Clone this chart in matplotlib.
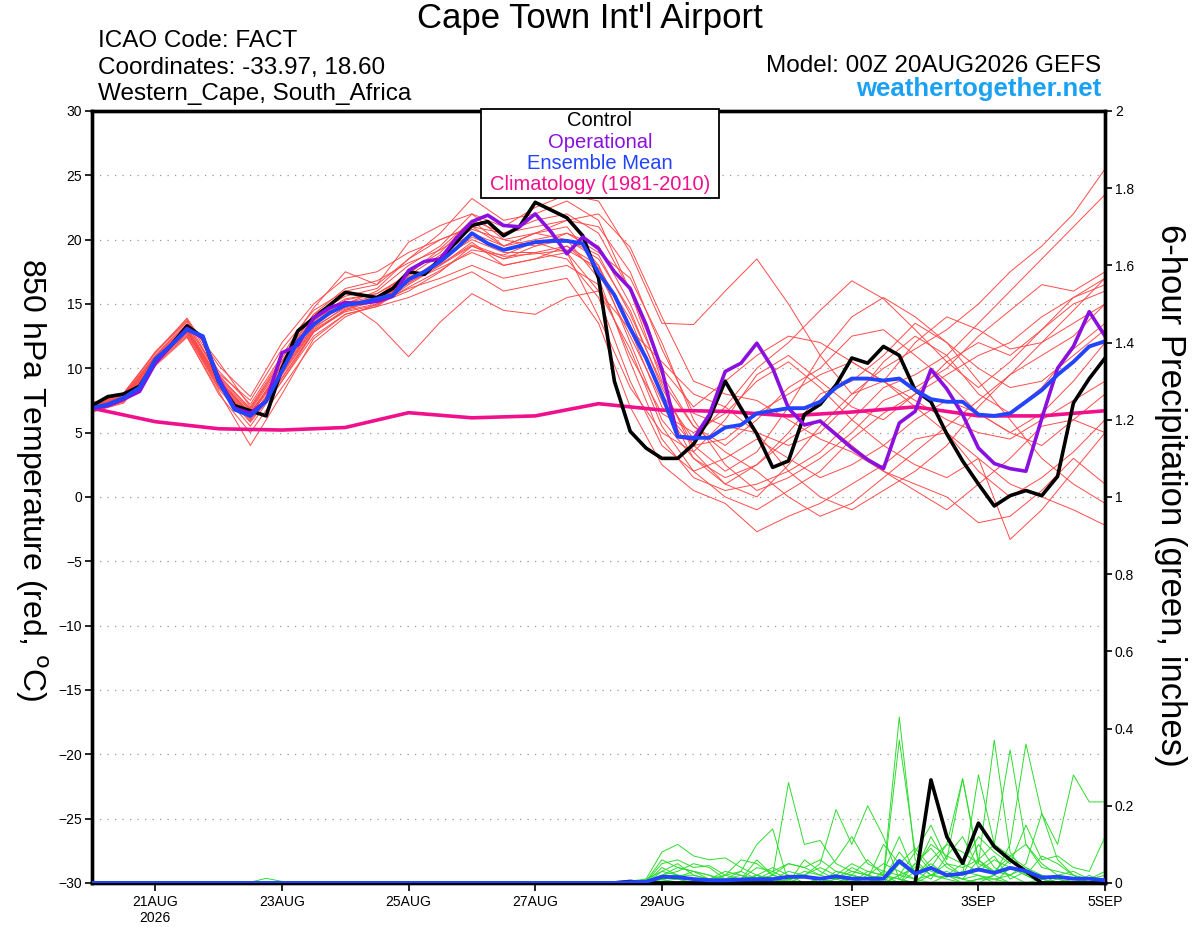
import numpy as np
import matplotlib
matplotlib.use("Agg")
from matplotlib import pyplot as plt
from matplotlib.patches import Rectangle

plt.rcParams['font.family'] = ['Liberation Sans', 'DejaVu Sans']

# time axis: hours after 00Z 20AUG2026
hours6 = np.arange(0, 385, 6)
hours12 = np.arange(0, 385, 12)
hours24 = np.arange(0, 385, 24)

tick_hours = [24, 72, 120, 168, 216, 288, 336, 384]
tick_labels = ["21AUG\n2026", "23AUG", "25AUG", "27AUG", "29AUG", "1SEP", "3SEP", "5SEP"]

# 850 hPa temperature, 6-hourly
control = [7.1, 7.8, 8.0, 8.6, 10.5, 11.8, 13.3, 12.4, 9.0, 7.1,
           6.7, 6.3, 10.0, 12.9, 13.9, 14.9, 15.9, 15.7, 15.5, 16.2,
           17.5, 17.3, 18.5, 19.8, 21.1, 21.4, 20.3, 21.0, 22.9, 22.3,
           21.7, 20.3, 17.0, 9.0, 5.1, 3.8, 3.0, 3.0, 4.1, 6.1,
           9.0, 6.9, 4.9, 2.3, 2.8, 6.4, 7.2, 8.7, 10.8, 10.4,
           11.7, 11.0, 8.3, 7.4, 4.9, 2.8, 1.0, -0.7, 0.1, 0.5,
           0.1, 1.6, 7.3, 9.2, 10.8]
operational = [6.9, 7.1, 7.6, 8.2, 10.4, 11.8, 13.1, 12.35, 9.25, 6.9,
               6.5, 7.45, 11.2, 11.8, 13.9, 14.7, 15.1, 15.05, 15.2, 15.6,
               17.6, 18.3, 18.5, 20.1, 21.4, 21.9, 21.1, 21.0, 22.0, 20.6,
               18.9, 20.2, 19.3, 17.5, 16.2, 13.4, 9.9, 4.7, 4.5, 6.4,
               9.75, 10.4, 11.95, 10.0, 6.9, 5.6, 5.9, 4.85, 3.8, 2.9,
               2.2, 5.75, 6.65, 9.9, 8.4, 6.4, 3.8, 2.6, 2.2, 2.0,
               6.1, 10.0, 11.7, 14.4, 12.5]
ens_mean = [6.9, 7.2, 7.7, 8.5, 10.7, 11.8, 13.0, 12.5, 9.0, 6.8,
            6.3, 7.45, 9.8, 12.1, 13.4, 14.3, 14.9, 15.1, 15.4, 15.7,
            16.9, 17.5, 18.3, 19.3, 20.5, 19.7, 19.2, 19.5, 19.8, 19.9,
            19.9, 19.7, 17.4, 15.7, 13.1, 10.8, 7.95, 4.7, 4.6, 4.6,
            5.4, 5.6, 6.5, 6.7, 6.9, 6.9, 7.4, 8.5, 9.2, 9.2,
            9.05, 9.2, 8.3, 7.6, 7.4, 7.4, 6.4, 6.3, 6.5, 7.4,
            8.3, 9.5, 10.5, 11.7, 12.1]
climatology = [6.9, 5.85, 5.3, 5.2, 5.4, 6.55, 6.15, 6.3, 7.25,
               6.75, 6.65, 6.3, 6.6, 7.0, 6.3, 6.3, 6.7]

# ensemble members, 12-hourly
m01 = [7.0, 7.8, 11.0, 13.6, 9.5, 6.8, 10.5, 14.2, 15.6, 16.2, 18.5, 20.5, 23.2, 21.5, 22.0, 23.0, 21.5, 16.0, 9.0, 5.5, 4.0, 6.0, 8.5, 10.0, 12.5, 13.0, 11.0, 9.0, 6.5, 5.0, 4.0, 6.0, 8.0]
m02 = [6.8, 7.5, 10.5, 12.8, 8.6, 5.8, 9.0, 12.8, 14.5, 15.0, 16.0, 17.5, 19.5, 18.5, 19.5, 20.5, 19.0, 17.0, 12.0, 6.0, 2.5, 0.5, 1.5, 3.0, 5.0, 7.5, 8.5, 10.0, 12.5, 14.5, 16.5, 16.0, 17.5]
m03 = [7.2, 8.0, 11.2, 13.9, 10.2, 7.8, 12.0, 15.0, 17.0, 17.5, 19.0, 20.0, 21.0, 19.5, 20.5, 21.0, 18.0, 12.0, 6.0, 3.0, 1.5, 2.5, 5.0, 8.0, 9.0, 11.0, 13.5, 12.0, 9.0, 6.0, 3.0, 1.0, -0.5]
m04 = [6.6, 7.4, 10.2, 12.4, 8.2, 4.0, 8.0, 12.3, 14.2, 14.8, 16.5, 18.0, 19.8, 18.0, 18.5, 19.0, 14.0, 8.5, 5.0, 3.5, 6.0, 9.5, 11.0, 9.0, 7.0, 6.0, 8.0, 10.5, 12.0, 11.0, 13.0, 15.0, 16.0]
m05 = [7.1, 7.9, 10.9, 13.2, 9.2, 6.5, 10.0, 13.8, 15.2, 13.5, 10.9, 13.6, 15.8, 14.5, 14.2, 15.5, 16.0, 13.0, 10.5, 8.0, 7.0, 5.0, 2.0, 0.0, -1.0, 0.5, 2.0, 4.0, 7.0, 9.5, 12.0, 13.5, 15.0]
m06 = [6.9, 7.6, 10.6, 12.9, 8.8, 6.0, 9.5, 13.0, 14.5, 15.5, 17.5, 19.0, 21.5, 20.5, 21.0, 21.5, 22.0, 19.4, 14.0, 9.0, 8.0, 7.5, 6.0, 4.5, 3.5, 2.0, 0.5, -1.0, 1.0, 3.0, 5.5, 6.0, 5.0]
m07 = [7.3, 8.0, 11.3, 13.8, 9.8, 7.2, 11.0, 14.7, 17.5, 16.5, 19.8, 21.1, 22.0, 20.0, 19.5, 20.0, 17.0, 10.5, 4.5, 1.5, 0.5, 1.0, 2.0, 3.5, 6.0, 8.5, 9.5, 11.0, 13.5, 16.0, 18.5, 21.0, 23.5]
m08 = [6.7, 7.5, 10.4, 12.6, 8.4, 5.5, 9.0, 12.5, 14.2, 14.8, 15.5, 16.5, 17.5, 16.0, 16.5, 17.0, 13.5, 7.0, 2.5, 0.5, -0.5, -2.7, -1.5, -0.5, 1.0, 2.5, 4.5, 5.0, 3.0, 1.0, 0.0, -1.0, -2.2]
m09 = [7.0, 7.7, 10.8, 13.1, 9.1, 6.4, 10.2, 13.6, 15.0, 16.0, 18.0, 19.5, 22.0, 21.0, 22.5, 23.5, 23.0, 19.0, 13.5, 13.4, 16.0, 18.5, 15.0, 11.0, 8.0, 9.0, 12.0, 14.0, 13.0, 11.5, 12.0, 14.5, 17.0]
m10 = [6.8, 7.6, 10.5, 12.7, 8.5, 6.2, 9.3, 12.8, 14.6, 15.2, 16.8, 18.5, 20.0, 19.0, 19.0, 18.5, 15.5, 9.0, 4.0, 2.0, 3.0, 4.5, 3.0, 1.5, 2.5, 4.0, 6.0, 7.5, 6.5, 5.0, 6.5, 9.0, 12.0]
m11 = [7.2, 7.9, 11.0, 13.4, 9.4, 6.9, 10.6, 13.9, 15.4, 15.8, 17.2, 18.8, 20.5, 19.5, 20.5, 20.0, 18.5, 14.5, 8.5, 4.0, 2.0, 3.5, 7.0, 11.0, 14.0, 15.5, 14.0, 12.0, 10.0, 8.5, 9.0, 11.0, 13.0]
m12 = [6.6, 7.3, 10.3, 12.5, 8.0, 5.0, 8.5, 12.0, 14.0, 15.0, 16.2, 17.0, 18.0, 17.0, 17.5, 18.0, 16.5, 11.0, 6.5, 5.0, 6.5, 9.0, 10.5, 8.5, 6.0, 4.0, 2.5, 1.5, 3.0, -3.3, -1.0, 2.0, 5.0]
m13 = [7.1, 7.8, 10.7, 13.0, 9.0, 6.6, 9.8, 13.3, 15.0, 15.5, 17.0, 18.0, 19.5, 18.5, 19.0, 19.5, 17.5, 12.5, 7.5, 3.0, 1.0, 0.0, 2.5, 5.5, 8.0, 10.0, 11.5, 13.0, 15.0, 17.5, 19.5, 22.0, 25.5]
m14 = [6.9, 7.7, 10.9, 13.3, 9.6, 7.5, 11.5, 14.5, 16.0, 16.5, 18.5, 20.0, 21.0, 20.5, 21.5, 22.0, 20.5, 16.0, 10.0, 7.0, 9.0, 11.0, 12.5, 12.0, 10.5, 9.0, 7.5, 6.0, 5.0, 4.5, 6.0, 7.5, 9.0]
m15 = [7.0, 7.6, 10.6, 12.9, 8.9, 6.1, 9.6, 13.1, 14.8, 15.3, 16.7, 17.8, 19.0, 18.0, 18.5, 19.5, 18.0, 13.0, 7.0, 4.0, 4.5, 6.5, 8.0, 9.5, 10.5, 9.0, 7.0, 5.0, 2.0, 0.0, 1.5, 3.5, 6.0]
m16 = [6.7, 7.4, 10.4, 12.8, 8.7, 5.9, 9.2, 12.9, 14.4, 14.9, 16.3, 17.6, 19.2, 18.8, 19.8, 19.0, 16.0, 11.5, 5.5, 2.0, 0.0, -1.0, 0.5, 2.0, 4.5, 6.5, 8.0, 9.5, 11.0, 12.0, 14.0, 15.5, 17.0]
m17 = [7.3, 8.1, 11.2, 13.7, 10.5, 7.0, 10.8, 14.2, 16.2, 16.8, 18.2, 19.2, 20.8, 20.0, 20.5, 21.5, 21.0, 17.5, 11.5, 6.5, 5.5, 5.0, 4.0, 5.0, 7.5, 10.5, 12.5, 11.0, 8.0, 6.5, 8.5, 11.5, 13.5]
m18 = [6.8, 7.7, 10.8, 13.0, 9.3, 6.7, 10.3, 13.7, 15.3, 15.8, 17.3, 19.3, 21.5, 19.5, 20.0, 20.5, 19.5, 15.0, 9.5, 5.5, 3.5, 2.0, 0.0, -1.5, -0.5, 1.5, 3.5, 5.5, 7.5, 9.5, 11.0, 12.5, 15.0]
m19 = [7.0, 7.8, 10.7, 12.9, 8.9, 6.3, 9.9, 13.5, 15.1, 15.6, 17.1, 18.1, 19.6, 18.7, 18.9, 19.2, 17.8, 13.8, 8.0, 4.5, 7.0, 10.0, 12.0, 14.5, 16.8, 15.4, 13.0, 10.5, 8.5, 10.5, 13.0, 15.5, 16.5]
m20 = [6.9, 7.5, 10.6, 13.1, 9.0, 6.4, 9.7, 13.2, 14.7, 15.2, 16.6, 18.2, 20.2, 19.2, 19.8, 20.0, 18.8, 14.2, 8.8, 3.5, 1.0, 2.5, 4.5, 6.0, 4.0, 2.0, 1.0, 0.0, -2.0, -1.5, 0.5, 3.0, 1.0]
members = [m01, m02, m03, m04, m05, m06, m07, m08, m09, m10,
           m11, m12, m13, m14, m15, m16, m17, m18, m19, m20]

# 6-hour precipitation (inches); dry before 28AUG except a trace on 22AUG
precip_early_hours = [60, 66, 72, 78]
precip_early = [0.002, 0.012, 0.004, 0.0]

precip_hours = np.arange(192, 385, 6)
control_pcp = [0, 0, 0.004, 0, 0, 0, 0, 0, 0, 0, 0, 0, 0, 0, 0, 0, 0, 0, 0, 0,
               0, 0.267, 0.12, 0.051, 0.155, 0.094, 0.06, 0.03, 0, 0, 0, 0, 0]
mean_pcp = [0, 0, 0.002, 0.003, 0.016, 0.015, 0.01, 0.007, 0.007, 0.009,
            0.01, 0.01, 0.016, 0.016, 0.011, 0.017, 0.011, 0.011, 0.011, 0.057,
            0.024, 0.039, 0.02, 0.024, 0.035, 0.026, 0.039, 0.031, 0.014, 0.016,
            0.011, 0.011, 0.007]
g01 = [0, 0, 0.005, 0.01, 0.03, 0.02, 0.01, 0, 0, 0.01, 0.02, 0.01, 0, 0, 0.01, 0.02, 0.05, 0.03, 0.02, 0.43, 0.06, 0.02, 0.01, 0, 0.01, 0.02, 0, 0, 0, 0, 0, 0, 0]
g02 = [0, 0, 0, 0.01, 0.08, 0.1, 0.07, 0.06, 0.065, 0.04, 0.02, 0.01, 0.005, 0, 0, 0.01, 0.03, 0.02, 0.01, 0.37, 0.08, 0.03, 0.02, 0.01, 0.02, 0.01, 0, 0, 0, 0, 0, 0, 0]
g03 = [0, 0, 0, 0.005, 0.06, 0.04, 0.03, 0.02, 0.01, 0.03, 0.1, 0.14, 0.0, 0.02, 0.01, 0.0, 0.01, 0.0, 0.0, 0.02, 0.08, 0.15, 0.06, 0.27, 0.05, 0.37, 0.08, 0.02, 0, 0, 0, 0, 0]
g04 = [0, 0, 0, 0, 0.02, 0.04, 0.03, 0.01, 0.02, 0.06, 0.05, 0.02, 0.26, 0.1, 0.11, 0.05, 0.03, 0.02, 0.01, 0.0, 0.05, 0.09, 0.04, 0.02, 0.28, 0.1, 0.345, 0.1, 0.05, 0.02, 0.01, 0.01, 0.02]
g05 = [0, 0, 0, 0.003, 0.05, 0.06, 0.04, 0.045, 0.02, 0.01, 0.06, 0.02, 0.01, 0.02, 0.05, 0.19, 0.1, 0.2, 0.12, 0.01, 0.0, 0.02, 0.05, 0.04, 0.06, 0.02, 0.1, 0.36, 0.18, 0.1, 0.28, 0.21, 0.21]
g06 = [0, 0, 0, 0, 0.01, 0.02, 0.01, 0.0, 0.01, 0.0, 0.01, 0.02, 0.05, 0.04, 0.02, 0.06, 0.12, 0.05, 0.03, 0.02, 0.04, 0.1, 0.07, 0.05, 0.12, 0.08, 0.05, 0.15, 0.06, 0.07, 0.04, 0.03, 0.12]
g07 = [0, 0, 0, 0.005, 0.02, 0.01, 0.0, 0.01, 0.03, 0.02, 0.0, 0.01, 0.0, 0.06, 0.03, 0.01, 0.02, 0.01, 0.1, 0.05, 0.02, 0.06, 0.1, 0.27, 0.06, 0.03, 0.02, 0.04, 0.02, 0.01, 0.0, 0.01, 0.0]
g08 = [0, 0, 0, 0, 0.04, 0.02, 0.01, 0.0, 0.0, 0.0, 0.02, 0.0, 0.01, 0.02, 0.04, 0.02, 0.01, 0.0, 0.03, 0.12, 0.02, 0.05, 0.02, 0.01, 0.06, 0.1, 0.07, 0.04, 0.01, 0.0, 0.0, 0.0, 0.0]
g09 = [0, 0, 0, 0.002, 0.01, 0.015, 0.03, 0.02, 0.0, 0.01, 0.04, 0.03, 0.01, 0.0, 0.0, 0.03, 0.02, 0.01, 0.0, 0.05, 0.09, 0.04, 0.1, 0.08, 0.05, 0.03, 0.07, 0.1, 0.04, 0.03, 0.02, 0.0, 0.0]
g10 = [0, 0, 0, 0, 0.03, 0.05, 0.02, 0.01, 0.0, 0.0, 0.0, 0.01, 0.03, 0.02, 0.01, 0.0, 0.0, 0.03, 0.02, 0.01, 0.0, 0.04, 0.02, 0.05, 0.03, 0.06, 0.04, 0.02, 0.07, 0.05, 0.02, 0.01, 0.03]
g11 = [0, 0, 0, 0.004, 0.02, 0.03, 0.05, 0.04, 0.01, 0.02, 0.01, 0.03, 0.05, 0.04, 0.06, 0.03, 0.02, 0.01, 0.02, 0.0, 0.03, 0.12, 0.05, 0.02, 0.1, 0.04, 0.02, 0.05, 0.18, 0.06, 0.02, 0.0, 0.0]
g12 = [0, 0, 0, 0, 0.01, 0.0, 0.0, 0.01, 0.0, 0.0, 0.02, 0.04, 0.02, 0.0, 0.0, 0.0, 0.02, 0.06, 0.02, 0.01, 0.05, 0.02, 0.03, 0.01, 0.0, 0.02, 0.06, 0.03, 0.01, 0.02, 0.03, 0.01, 0.0]
g13 = [0, 0, 0, 0.002, 0.005, 0.01, 0.01, 0.0, 0.0, 0.005, 0.0, 0.0, 0.01, 0.02, 0.0, 0.01, 0.04, 0.02, 0.05, 0.03, 0.01, 0.02, 0.015, 0.03, 0.02, 0.0, 0.04, 0.02, 0.0, 0.01, 0.0, 0.0, 0.01]
g14 = [0, 0, 0, 0, 0.02, 0.01, 0.0, 0.0, 0.02, 0.03, 0.01, 0.0, 0.0, 0.0, 0.01, 0.02, 0.0, 0.0, 0.01, 0.08, 0.03, 0.01, 0.07, 0.12, 0.04, 0.07, 0.01, 0.03, 0.02, 0.0, 0.0, 0.02, 0.0]
g15 = [0, 0, 0, 0.003, 0.01, 0.02, 0.02, 0.01, 0.01, 0.0, 0.0, 0.02, 0.01, 0.03, 0.02, 0.01, 0.0, 0.02, 0.0, 0.02, 0.01, 0.0, 0.02, 0.0, 0.01, 0.01, 0.02, 0.0, 0.01, 0.0, 0.01, 0.0, 0.0]
green_members = [g01, g02, g03, g04, g05, g06, g07, g08, g09, g10,
                 g11, g12, g13, g14, g15]

fig = plt.figure(figsize=(12, 9.27), dpi=100)
ax = fig.add_axes([0.0767, 0.0475, 0.8442, 0.8328])
ax2 = ax.twinx()

for m in members:
    ax.plot(hours12, m, color='#ff4b4b', lw=0.7, zorder=2)

ax.plot(hours24, climatology, color='#f0108c', lw=2.6, zorder=4)
ax.plot(hours6, control, color='black', lw=2.6, zorder=5)
ax.plot(hours6, operational, color='#8a10e0', lw=2.6, zorder=6)
ax.plot(hours6, ens_mean, color='#2244ff', lw=2.8, zorder=7)

ax.set_xlim(0, 384)
ax.set_ylim(-30, 30)
ax.set_yticks(np.arange(-30, 31, 5))
ax.yaxis.grid(True, linestyle=(0, (1, 5)), color='#999999', lw=0.9)
ax.set_axisbelow(True)
ax.set_xticks(tick_hours)
ax.set_xticklabels(tick_labels, fontsize=10, linespacing=1.15)
ax.tick_params(axis='y', labelsize=10, length=5, width=1.2, direction='out', pad=2)
ax.tick_params(axis='x', length=6, width=1.2, direction='out', pad=3)
for s in ax.spines.values():
    s.set_linewidth(2.4)

# precipitation on the right axis
ax2.plot(precip_early_hours, precip_early, color='#2ddc2d', lw=0.7, zorder=2)
for g in green_members:
    ax2.plot(precip_hours, g, color='#2ddc2d', lw=0.7, zorder=2)
ax2.plot(np.concatenate([hours6[:32], precip_hours]),
         np.concatenate([np.zeros(32), control_pcp]), color='black', lw=2.6, zorder=5)
ax2.plot(np.concatenate([hours6[:32], precip_hours]),
         np.concatenate([np.zeros(32), mean_pcp]), color='#2244ff', lw=2.8, zorder=6)
ax2.set_ylim(0, 2)
ax2.set_yticks(np.arange(0, 2.01, 0.2))
ax2.set_yticklabels(["0", "0.2", "0.4", "0.6", "0.8", "1", "1.2", "1.4", "1.6", "1.8", "2"])
ax2.tick_params(axis='y', labelsize=10, length=5, width=1.2, direction='out', pad=2)
for s in ax2.spines.values():
    s.set_linewidth(2.4)

# axis titles, placed in figure coordinates
fig.text(0.026, 0.482, r"850 hPa Temperature (red, $^{\mathrm{o}}$C)", fontsize=23,
         rotation=270, ha='center', va='center')
fig.text(0.975, 0.466, "6-hour Precipitation (green, inches)", fontsize=25,
         rotation=270, ha='center', va='center')

# header text
fig.text(0.4917, 0.9698, "Cape Town Int'l Airport", fontsize=25, ha='center', va='baseline')
fig.text(0.0817, 0.9493, "ICAO Code: FACT", fontsize=17.5, va='baseline')
fig.text(0.0817, 0.9207, "Coordinates: -33.97, 18.60", fontsize=17.5, va='baseline')
fig.text(0.0817, 0.8921, "Western_Cape, South_Africa", fontsize=17.5, va='baseline')
fig.text(0.9175, 0.9223, "Model: 00Z 20AUG2026 GEFS", fontsize=17.5, ha='right', va='baseline')
fig.text(0.9175, 0.8964, "weathertogether.net", fontsize=18.5, ha='right', va='baseline',
         fontweight='bold', color='#1ba1f2')

# legend box
box = Rectangle((0.4006, 0.7864), 0.1985, 0.0957, transform=fig.transFigure,
                facecolor='white', edgecolor='black', lw=1.3, zorder=20)
fig.add_artist(box)
leg_items = [("Control", 'black'), ("Operational", '#8a10e0'),
             ("Ensemble Mean", '#2244ff'), ("Climatology (1981-2010)", '#f0108c')]
for i, (txt, col) in enumerate(leg_items):
    fig.text(0.5, 0.8695 - i * 0.0230, txt, fontsize=14.5, color=col,
             ha='center', va='center', zorder=21)

fig.savefig("out.png", dpi=100)
